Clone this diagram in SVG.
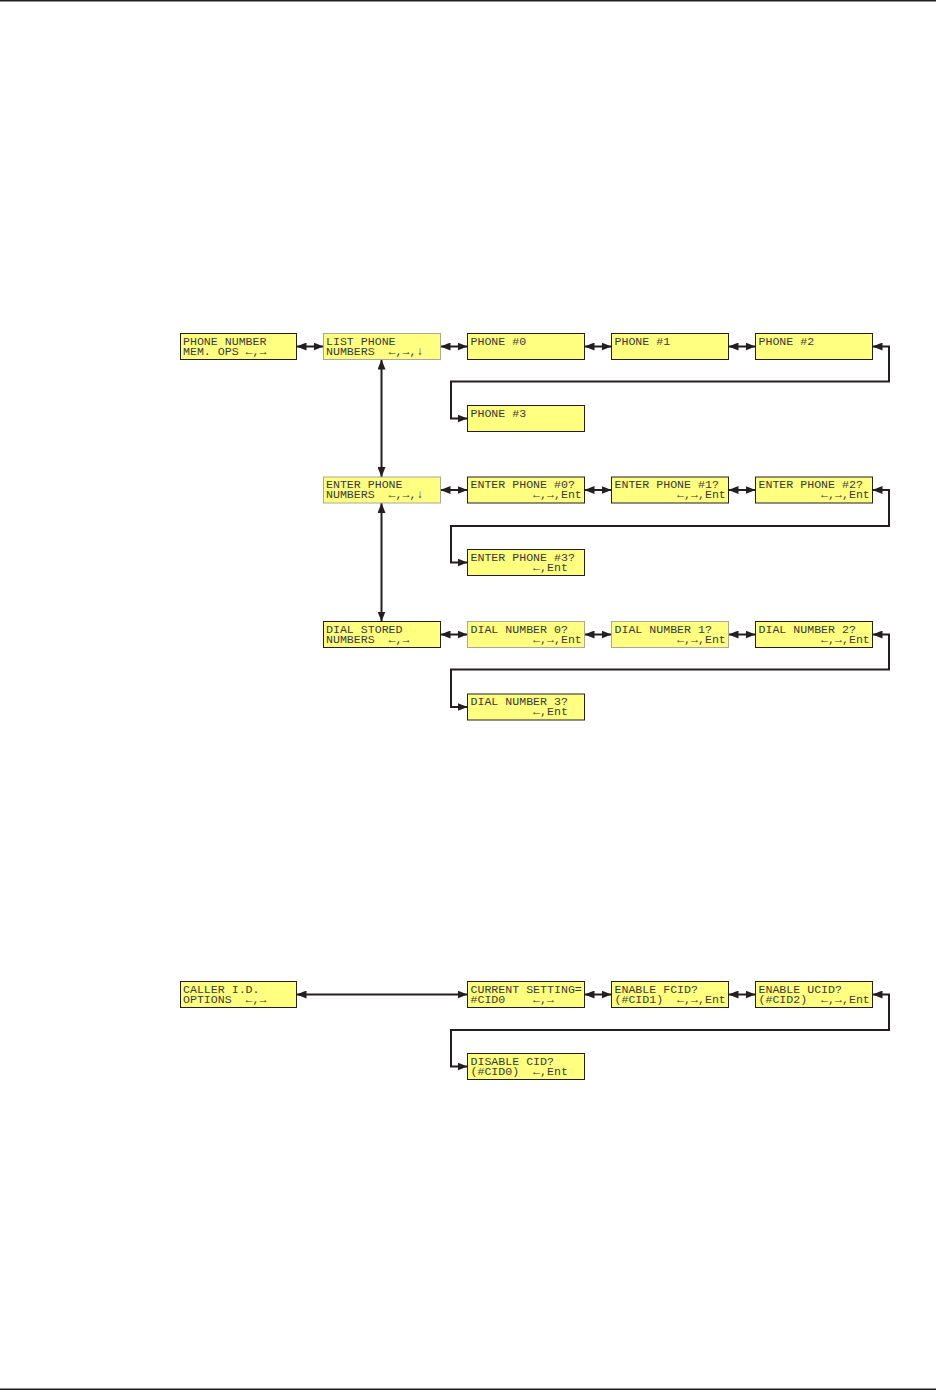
<svg xmlns="http://www.w3.org/2000/svg" width="936" height="1390" viewBox="0 0 936 1390" xml:space="preserve">
<style>
.box{fill:#ffff80;stroke:#231f20;stroke-width:1}
.lt{stroke:#a8a8a0}
.t{font-family:"Liberation Mono","DejaVu Sans Mono",monospace;font-size:11.6px;fill:#3a3a3a;white-space:pre}
.c{fill:none;stroke:#231f20;stroke-width:2;marker-start:url(#ah);marker-end:url(#ah)}
.rule{stroke:#231f20;stroke-width:1.5}
</style>
<defs>
<marker id="ah" markerUnits="userSpaceOnUse" viewBox="0 0 10 8" markerWidth="10" markerHeight="8" refX="10" refY="4" orient="auto-start-reverse">
<path d="M0,0 L10,4 L0,8 z" fill="#231f20"/>
</marker>
</defs>
<rect width="936" height="1390" fill="#ffffff"/>
<line class="rule" x1="0" y1="0.8" x2="936" y2="0.8"/>
<line class="rule" x1="0" y1="1389.2" x2="936" y2="1389.2"/>

<g id="connectors">
<path class="c" d="M296.5,346.5 H323.5"/>
<path class="c" d="M440.5,346.5 H467.5"/>
<path class="c" d="M584.5,346.5 H611.5"/>
<path class="c" d="M728.5,346.5 H755.5"/>
<path class="c" d="M872.5,346.5 H889 V381.5 H451 V418.5 H467.5"/>
<path class="c" d="M381.5,359.5 V477"/>
<path class="c" d="M440.5,490 H467.5"/>
<path class="c" d="M584.5,490 H611.5"/>
<path class="c" d="M728.5,490 H755.5"/>
<path class="c" d="M872.5,490 H889 V526 H451 V562.5 H467.5"/>
<path class="c" d="M381.5,503 V621.5"/>
<path class="c" d="M440.5,634.5 H467.5"/>
<path class="c" d="M584.5,634.5 H611.5"/>
<path class="c" d="M728.5,634.5 H755.5"/>
<path class="c" d="M872.5,634.5 H889 V669.5 H451 V707 H467.5"/>
<path class="c" d="M296.5,994.5 H467.5"/>
<path class="c" d="M584.5,994.5 H611.5"/>
<path class="c" d="M728.5,994.5 H755.5"/>
<path class="c" d="M872.5,994.5 H889 V1030 H451 V1066.5 H467.5"/>
</g>

<g id="n-phone-mem"><rect class="box" x="180.5" y="333.5" width="116" height="26"/><text class="t" x="183" y="344.5">PHONE NUMBER<tspan x="183" dy="10">MEM. OPS ←,→</tspan></text></g>
<g id="n-list"><rect class="box lt" x="323.5" y="333.5" width="117" height="26"/><text class="t" x="326" y="344.5">LIST PHONE<tspan x="326" dy="10">NUMBERS  ←,→,↓</tspan></text></g>
<g id="n-p0"><rect class="box" x="467.5" y="333.5" width="117" height="26"/><text class="t" x="470.5" y="344.5">PHONE #0</text></g>
<g id="n-p1"><rect class="box" x="611.5" y="333.5" width="117" height="26"/><text class="t" x="614.5" y="344.5">PHONE #1</text></g>
<g id="n-p2"><rect class="box" x="755.5" y="333.5" width="117" height="26"/><text class="t" x="758.5" y="344.5">PHONE #2</text></g>
<g id="n-p3"><rect class="box" x="467.5" y="405.5" width="117" height="26"/><text class="t" x="470.5" y="416.5">PHONE #3</text></g>

<g id="n-enter"><rect class="box lt" x="323.5" y="477" width="117" height="26"/><text class="t" x="326" y="488">ENTER PHONE<tspan x="326" dy="10">NUMBERS  ←,→,↓</tspan></text></g>
<g id="n-e0"><rect class="box" x="467.5" y="477" width="117" height="26"/><text class="t" x="470.5" y="488">ENTER PHONE #0?<tspan x="470.5" dy="10">         ←,→,Ent</tspan></text></g>
<g id="n-e1"><rect class="box" x="611.5" y="477" width="117" height="26"/><text class="t" x="614.5" y="488">ENTER PHONE #1?<tspan x="614.5" dy="10">         ←,→,Ent</tspan></text></g>
<g id="n-e2"><rect class="box" x="755.5" y="477" width="117" height="26"/><text class="t" x="758.5" y="488">ENTER PHONE #2?<tspan x="758.5" dy="10">         ←,→,Ent</tspan></text></g>
<g id="n-e3"><rect class="box" x="467.5" y="549.5" width="117" height="26"/><text class="t" x="470.5" y="560.5">ENTER PHONE #3?<tspan x="470.5" dy="10">         ←,Ent</tspan></text></g>

<g id="n-dial"><rect class="box" x="323.5" y="621.5" width="117" height="26"/><text class="t" x="326" y="632.5">DIAL STORED<tspan x="326" dy="10">NUMBERS  ←,→</tspan></text></g>
<g id="n-d0"><rect class="box lt" x="467.5" y="621.5" width="117" height="26"/><text class="t" x="470.5" y="632.5">DIAL NUMBER 0?<tspan x="470.5" dy="10">         ←,→,Ent</tspan></text></g>
<g id="n-d1"><rect class="box lt" x="611.5" y="621.5" width="117" height="26"/><text class="t" x="614.5" y="632.5">DIAL NUMBER 1?<tspan x="614.5" dy="10">         ←,→,Ent</tspan></text></g>
<g id="n-d2"><rect class="box" x="755.5" y="621.5" width="117" height="26"/><text class="t" x="758.5" y="632.5">DIAL NUMBER 2?<tspan x="758.5" dy="10">         ←,→,Ent</tspan></text></g>
<g id="n-d3"><rect class="box" x="467.5" y="694" width="117" height="26"/><text class="t" x="470.5" y="705">DIAL NUMBER 3?<tspan x="470.5" dy="10">         ←,Ent</tspan></text></g>

<g id="n-caller"><rect class="box" x="180.5" y="981.5" width="116" height="26"/><text class="t" x="183" y="992.5">CALLER I.D.<tspan x="183" dy="10">OPTIONS  ←,→</tspan></text></g>
<g id="n-current"><rect class="box" x="467.5" y="981.5" width="117" height="26"/><text class="t" x="470.5" y="992.5">CURRENT SETTING=<tspan x="470.5" dy="10">#CID0    ←,→</tspan></text></g>
<g id="n-fcid"><rect class="box" x="611.5" y="981.5" width="117" height="26"/><text class="t" x="614.5" y="992.5">ENABLE FCID?<tspan x="614.5" dy="10">(#CID1)  ←,→,Ent</tspan></text></g>
<g id="n-ucid"><rect class="box" x="755.5" y="981.5" width="117" height="26"/><text class="t" x="758.5" y="992.5">ENABLE UCID?<tspan x="758.5" dy="10">(#CID2)  ←,→,Ent</tspan></text></g>
<g id="n-disable"><rect class="box" x="467.5" y="1053.5" width="117" height="26"/><text class="t" x="470.5" y="1064.5">DISABLE CID?<tspan x="470.5" dy="10">(#CID0)  ←,Ent</tspan></text></g>
</svg>
